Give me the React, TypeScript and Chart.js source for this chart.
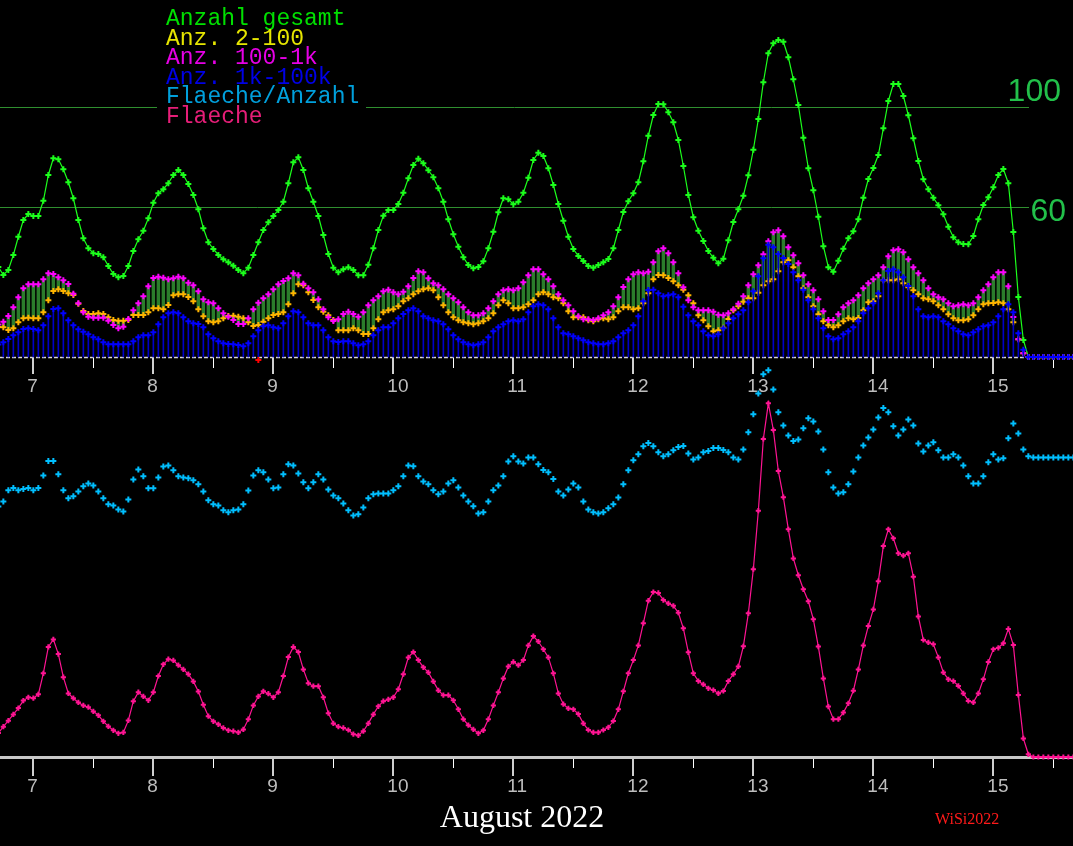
import { useEffect, useRef } from "react"
import { Chart, registerables } from "chart.js"
import type { ChartConfiguration, Plugin } from "chart.js"

Chart.register(...registerables)

// hourly samples, hour 0 = 7 Aug 00:00, first sample at 6 Aug 17:00
const START_HOUR = -7

const DAY_HOURS = [0, 24, 48, 72, 96, 120, 144, 168, 192]
const DAY_LABELS = ["7", "8", "9", "10", "11", "12", "13", "14", "15"]
const NOON_HOURS = [12, 36, 60, 84, 108, 132, 156, 180, 204]

const GRID_VALUES = [60, 100]

const LEGEND = [
  { text: "Anzahl gesamt", color: "#00e000" },
  { text: "Anz. 2-100", color: "#e6e600" },
  { text: "Anz. 100-1k", color: "#e600e6" },
  { text: "Anz. 1k-100k", color: "#0000e6" },
  { text: "Flaeche/Anzahl", color: "#00a0dc" },
  { text: "Flaeche", color: "#e61e78" },
]

const anzahlGesamt = [
  36, 32.8, 34.8, 40.8, 48.1, 54.8, 57.2,
  56.4, 56.4, 62.5, 72.8, 79.5, 79.1, 75.1, 69.9, 63.5, 54.8, 47.5, 43.5, 41.5, 41.2, 39.9, 36.4, 33.2, 31.9, 32.4, 36.4, 42.4, 47.1, 50.5, 55.5,
  61.7, 65.5, 67.1, 69.5, 72.8, 74.8, 72.8, 69.2, 64.8, 59.1, 51.5, 45.9, 43.2, 40.8, 39.1, 37.9, 36.5, 34.8, 33.5, 35.7, 40.8, 45.9, 50.8, 53.9,
  56.4, 58.8, 62.1, 69.5, 77.9, 79.9, 74.8, 67.5, 62.1, 56.4, 48.8, 41.2, 35.7, 33.9, 35.1, 35.9, 34.8, 32.7, 32.7, 36.9, 43.5, 50.8, 56.5, 58.8,
  58.8, 61.2, 65.7, 71.5, 76.8, 79.3, 77.5, 74.7, 71.9, 67.5, 62.1, 55.1, 49.1, 44.1, 39.9, 36.8, 35.5, 36, 38.3, 43.5, 50.1, 57.9, 63.5, 63.1,
  61.1, 62.1, 65.7, 71.7, 78.8, 81.7, 80.4, 75.5, 68.8, 61.2, 54.5, 48.1, 43.2, 40.4, 38.4, 36.4, 35.7, 36.8, 37.9, 39.2, 43.5, 50.8, 58, 62.3,
  65.5, 69.9, 78.3, 88.5, 96.8, 101.2, 101.1, 97.9, 93.9, 86.8, 76.4, 64.8, 55.9, 50.5, 46.4, 42.4, 39.7, 37.5, 39.3, 46.7, 54, 59.1, 64.5, 72.7,
  82.9, 95.2, 109.9, 121.5, 125.5, 126.8, 126.1, 119.9, 111.1, 100.8, 87.7, 75.5, 66.7, 56.1, 44.3, 35.9, 34.1, 38.5, 43.3, 47.5, 50.3, 55.1, 63.7, 71.2,
  75.6, 80.8, 91.5, 102.4, 109.2, 109.2, 104.4, 96.7, 87.5, 78.4, 71.1, 67.1, 63.7, 60.7, 57.1, 52.1, 47.9, 45.9, 45.2, 45.1, 48.4, 55.1, 60.8, 63.9,
  67.9, 72.8, 75.2, 69.5, 50, 24, 6.8, 0, 0, 0, 0, 0, 0, 0, 0, 0, 0,
]

const anz2to100 = [
  12, 11.9, 10.8, 11.5, 13.9, 15.5, 15.7,
  15.5, 15.5, 17.9, 22.7, 26.4, 27.1, 26.4, 25.5, 24.8, 21.3, 18.4, 17.2, 17.2, 17.5, 17.2, 15.9, 14.8, 14.5, 14.5, 14.8, 16.8, 16.8, 16.8, 17.9,
  19.5, 19.5, 19.1, 20.8, 24.7, 25.1, 25.1, 24, 22.3, 19.1, 16.3, 14.3, 13.9, 14.3, 15.5, 16.4, 16.5, 16.1, 15.5, 13.9, 12.4, 12.8, 14.1, 15.5,
  16.8, 17.2, 17.9, 21.1, 25.5, 29.1, 28.7, 25.9, 22.8, 19.9, 18.1, 16.7, 14.8, 10.7, 10.7, 10.7, 11.5, 10.7, 9.2, 9.2, 11.5, 15.1, 17.9, 18.7,
  19.1, 20.3, 22.3, 23.5, 25.1, 26.3, 27.1, 27.5, 26.7, 23.9, 20.7, 17.9, 15.9, 14.7, 13.9, 13.5, 13.1, 13.5, 14.3, 15.5, 17.5, 20.7, 22.7, 21.5,
  19.5, 19.5, 19.9, 21.1, 22.7, 25.1, 25.9, 25.1, 23.9, 23.5, 21.5, 18.3, 15.9, 15.9, 15.9, 14.7, 14.3, 15.1, 15.5, 15.1, 15.9, 18.3, 19.9, 19.9,
  19.1, 19.5, 21.5, 25.5, 31.1, 32.8, 32.7, 31.6, 30.3, 28.7, 26.9, 24.7, 21.5, 16.7, 14.7, 12.3, 10.3, 10.7, 11.7, 15.2, 18.7, 20.3, 22.1, 23.5,
  23.5, 25.7, 28.7, 30.3, 31.1, 34.3, 37.9, 38.7, 35.9, 32.3, 27.5, 23.9, 20.3, 17.1, 14.3, 12.7, 11.9, 12.7, 14.3, 15.5, 15.1, 15.6, 18.7, 21.9,
  22.3, 24.3, 30.7, 30.7, 30.7, 31.1, 29.5, 27.9, 26.7, 25.1, 23.5, 23.1, 22.3, 20.7, 19.1, 17.1, 15.5, 14.7, 14.7, 15.1, 16.7, 19.1, 21.1, 21.5,
  21.6, 21.9, 21.5, 19.1, 13.9, 7.1, 1.5, 0, 0, 0, 0, 0, 0, 0, 0, 0, 0,
]

const anz100to1k = [
  13, 14.1, 16.4, 19.9, 23.9, 27.5, 29.1,
  29.1, 29.1, 31.1, 33.5, 33.2, 31.9, 30.7, 29.2, 25.3, 21.5, 17.9, 16.1, 15.7, 15.7, 15.7, 14.5, 12.8, 11.5, 12.1, 15.2, 18.7, 21.5, 24.3, 28.3,
  31.6, 32.1, 31.7, 31.1, 31.5, 32.1, 31.5, 29.7, 28.7, 26.3, 23.1, 21.9, 21.5, 19.5, 17.5, 16.1, 14.8, 13.2, 13.2, 15.5, 19.1, 21.7, 23.5, 25.1,
  27.1, 29.1, 30.4, 31.5, 33.5, 32.7, 29.3, 27.5, 25.9, 23.1, 19.1, 15.9, 14.4, 15.1, 17.2, 18.1, 17.2, 16.1, 17.9, 20.7, 22.7, 24.3, 26.3, 26.9,
  25.9, 25.1, 26.1, 28.3, 31.6, 34.3, 33.9, 31.5, 29.5, 28.7, 27.1, 25.1, 23.5, 21.9, 19.9, 17.9, 16.7, 16.7, 17.5, 19.5, 22.3, 25.1, 26.7, 27.1,
  26.7, 27.5, 29.9, 32.7, 35.1, 35.1, 33.1, 31.1, 28.3, 25.1, 22.7, 20.7, 18.3, 16.3, 15.1, 15.1, 14.8, 15.5, 16.7, 17.9, 20.3, 23.9, 28, 31.1,
  33.1, 33.9, 33.5, 34.1, 37.9, 42.3, 43.5, 41.5, 37.9, 33.5, 27.9, 22.7, 19.9, 18.7, 18.7, 18.7, 18.1, 16.9, 16.7, 17.5, 19.1, 21.3, 24.3, 28.7,
  33.1, 36.7, 41.1, 46.3, 49.9, 50.7, 48.3, 43.9, 40.7, 37.5, 32.7, 29.1, 26.7, 23.1, 18.3, 14.8, 14.8, 17.1, 19.9, 21.5, 22.7, 24.7, 27.5, 29.5,
  31.1, 32.7, 35.9, 40.3, 42.7, 43.1, 41.9, 39.1, 35.9, 33.5, 30.7, 27.5, 25.1, 23.9, 23.1, 21.5, 20.3, 20.7, 21.1, 20.7, 21.5, 23.9, 26.7, 29.1,
  31.9, 33.9, 33.9, 28.3, 16, 7.1, 1.5, 0, 0, 0, 0, 0, 0, 0, 0, 0, 0,
]

const anz1kto100k = [
  5, 5.9, 7.2, 8.7, 9.9, 11.2, 11.5,
  11.2, 10.7, 12.7, 16.3, 19.2, 19.5, 17.5, 14.7, 12.7, 11.1, 10.1, 9.1, 7.9, 7.1, 5.9, 5.1, 5.1, 5.1, 5.1, 5.1, 6.3, 7.9, 8.7, 8.7,
  9.9, 13.1, 15.9, 17.5, 17.9, 17.5, 15.9, 14.3, 13.5, 13.2, 11.9, 9.1, 7.5, 6.3, 5.5, 5.2, 5.1, 4.8, 4.3, 5.5, 8.3, 10.7, 12.3, 12.7,
  11.9, 11.5, 13.5, 16.3, 18.3, 17.9, 15.9, 13.5, 12.7, 12.7, 10.7, 7.9, 6.3, 6, 6.3, 6.3, 5.5, 4.7, 5.1, 6.3, 8.7, 10.7, 11.9, 11.9,
  13.5, 15.5, 17.2, 18.7, 19.5, 18.3, 16.3, 15.5, 14.7, 14.3, 13.1, 11.1, 8.7, 7.1, 5.9, 5.1, 4.7, 5.1, 5.9, 7.9, 10.3, 11.9, 13.1, 14.3,
  14.7, 14.3, 15.1, 17.9, 20.3, 21.1, 20.7, 19.1, 15.5, 11.9, 9.5, 9.1, 8.3, 7.5, 6.7, 5.9, 5.5, 5.1, 5.1, 5.5, 6.3, 7.9, 9.5, 10.7,
  12.7, 16.3, 22.3, 26.8, 26.9, 25.5, 24.3, 24.7, 25.1, 23.9, 20.1, 16.7, 14.3, 12.7, 10.3, 8.7, 8.3, 9.1, 11.5, 13.5, 15.5, 17.1, 18.7, 21.9,
  26.3, 32.3, 39.5, 44.9, 43.9, 41.2, 39.6, 37.2, 33.9, 30.7, 26.9, 22.7, 19.1, 15.5, 11.5, 8.3, 7.1, 7.5, 9.1, 10.3, 11.9, 14.3, 17.5, 19.5,
  21.5, 25.5, 30.7, 34.4, 35.1, 33.9, 31.9, 28.4, 24.3, 19.1, 16.3, 15.9, 16.3, 15.9, 14.3, 13.1, 11.5, 10.3, 9.1, 8.7, 9.9, 11.1, 12.3, 12.7,
  13.9, 16.3, 19.1, 21.1, 17.9, 9.5, 2.9, 0, 0, 0, 0, 0, 0, 0, 0, 0, 0,
]

const flaecheProAnzahl = [
  62.6, 63.9, 66.7, 67.25, 66.7, 67, 67.25,
  66.7, 67.25, 70.4, 74, 74, 70.7, 66.7, 64.7, 65.2, 66.4, 67.7, 68.4, 67.9, 66.4, 64.7, 63.2, 62.9, 61.9, 61.4, 64.4, 69.4, 71.9, 70.2, 67.2,
  67.2, 69.9, 72.6, 72.9, 71.7, 70.2, 69.9, 69.7, 69.2, 68.2, 66.4, 64.2, 63.2, 62.9, 61.7, 61.2, 61.7, 61.9, 63.2, 66.6, 70.4, 71.7, 71.2, 69.4,
  67.2, 67.4, 70.7, 73.2, 72.9, 70.9, 68.7, 67.2, 68.7, 70.7, 69.4, 66.9, 65.4, 64.7, 63.4, 61.7, 60.4, 60.7, 62.4, 64.7, 65.7, 65.9, 65.9, 65.9,
  66.7, 67.7, 70.2, 72.9, 72.7, 70.2, 68.9, 68.2, 66.7, 65.7, 66.4, 68.4, 69.2, 67.4, 65.4, 63.9, 62.7, 60.9, 61.2, 63.9, 66.7, 67.9, 70.2, 73.9,
  75.2, 73.9, 73.4, 74.9, 74.9, 73.2, 71.75, 71.2, 69.5, 66.4, 65.4, 66.9, 68.4, 67.4, 63.9, 61.9, 61.2, 60.9, 61.2, 62.2, 63.2, 64.9, 68.2, 71.7,
  74.2, 75.7, 77.7, 78.5, 77.7, 76.2, 75.2, 75.7, 76.7, 77.5, 77.75, 75.9, 74.4, 74.9, 76.2, 76.5, 77.25, 77.25, 76.75, 76.2, 74.9, 74.4, 76.9, 81.2,
  85.7, 90.9, 95.7, 96.7, 91.9, 86.2, 82.9, 80.4, 79, 79.4, 82.2, 84.7, 83.9, 81.4, 76.9, 71.2, 67.4, 65.9, 66.2, 68.2, 71.4, 74.9, 77.9, 79.9,
  81.9, 84.9, 87.25, 86.2, 82.7, 80.4, 81.9, 84.4, 82.9, 78.4, 76.4, 77.9, 78.7, 76.7, 74.9, 74.9, 75.7, 74.9, 72.9, 70.2, 68.4, 68.4, 70.2, 73.7,
  75.7, 74.4, 74.7, 79.7, 83.4, 80.9, 76.9, 75.2, 74.9, 74.9, 74.9, 74.9, 74.9, 74.9, 74.9, 74.9, 74.9,
]

const flaeche = [
  8, 10.1, 12.1, 14.2, 16.3, 18.8, 19.9,
  19.6, 20.9, 27.9, 36.7, 39.2, 34.3, 26.6, 21.2, 19.6, 18.2, 17.2, 16.6, 15.2, 13.9, 11.9, 10.2, 8.9, 7.9, 8.2, 12.2, 18.6, 21.6, 20.2, 18.9,
  21.6, 27, 30.9, 32.6, 32.2, 30.6, 29.2, 27.6, 25.2, 21.8, 17.4, 13.6, 11.9, 10.9, 9.7, 8.9, 8.6, 8.2, 9.2, 12.6, 17.2, 20.2, 21.9, 21.1,
  19.9, 21.6, 27, 33.3, 36.7, 35, 29.2, 24.6, 23.6, 23.6, 19.9, 14.6, 11.2, 10.1, 9.7, 9, 7.6, 7.2, 8.6, 11.2, 14.2, 16.9, 18.6, 19.2,
  19.9, 22.6, 27.6, 33.2, 35, 32.3, 29.9, 28.2, 25.2, 22.2, 20.6, 20.6, 18.9, 15.9, 12.6, 10.6, 9.2, 7.9, 8.9, 12.6, 17.2, 21.6, 26.2, 30.2,
  31.7, 30.6, 32.3, 37.2, 40.3, 38.5, 35.9, 33.2, 27.9, 21.2, 17.6, 16.2, 15.9, 14.3, 11.2, 9, 8.2, 8.2, 9, 9.9, 12, 15.9, 21.9, 27.9,
  32.3, 37.2, 44.6, 52.1, 55, 54.7, 52.3, 51.2, 50.4, 48.1, 42.9, 34.9, 27.9, 25.3, 24.2, 22.9, 22.3, 21.2, 22, 25.3, 27.6, 30.2, 36.9, 47.9,
  62.6, 82.1, 106, 117.9, 109, 95.3, 86.6, 75.9, 66.2, 60.6, 55.9, 51.9, 45.9, 36.8, 26.2, 16.8, 12.6, 12.6, 14.8, 17.9, 22.1, 29.2, 37.2, 43.7,
  49.2, 58.6, 70.3, 75.9, 72.9, 67.9, 67.1, 67.9, 60.1, 46.8, 39, 38.2, 37.6, 33.2, 28.2, 25.9, 25.3, 23.7, 21.2, 18.7, 18.2, 21.2, 25.9, 31.7,
  35.9, 36.4, 37.9, 42.7, 37.3, 20.7, 6.2, 0.9, 0, 0, 0, 0, 0, 0, 0, 0, 0,
]

// single red marker just below the count baseline
const redMarks = [{ x: 45, y: -1.2 }]

const WIDTH = 1073
const HEIGHT = 846
const BOTTOM_SPACE = 89
const X_MIN = -6.67
const X_MAX = 207.93
const GRID_RIGHT = 1029

const GREEN = "#1cff1c"
const ORANGE = "#ffb400"
const MAGENTA = "#ff00ff"
const BLUE = "#0000ff"
const CYAN = "#00bfff"
const PINK = "#ff1493"

const hours = anzahlGesamt.map((_, i) => START_HOUR + i)
const pts = (values: number[]) => values.map((y, i) => ({ x: hours[i], y }))

const marker = (color: string, radius = 3, width = 2) => ({
  pointStyle: "cross" as const,
  pointRadius: radius,
  pointBorderWidth: width,
  pointBorderColor: color,
  pointBackgroundColor: color,
  borderColor: color,
  clip: false as const,
})

const dayLabel = (value: number | string) => {
  const i = DAY_HOURS.indexOf(Number(value))
  return i >= 0 ? DAY_LABELS[i] : ""
}

const tickLabels = {
  color: "#bdbdbd",
  font: { family: "'Liberation Sans', sans-serif", size: 19 },
  padding: 1,
  align: "start" as const,
  labelOffset: -6,
  maxRotation: 0,
  autoSkip: false,
  callback: dayLabel,
}

const majorAxis = (positionAxis: string, withBorder: boolean) => ({
  type: "linear" as const,
  min: X_MIN,
  max: X_MAX,
  offset: false,
  position: { [positionAxis]: 0 },
  grid: { offset: false, drawOnChartArea: false, drawTicks: true, tickLength: 17, color: "#cfcfcf", lineWidth: 2 },
  border: withBorder ? { display: true, color: "#c8c8c8", width: 3 } : { display: false },
  ticks: tickLabels,
  afterBuildTicks: (axis: any) => {
    axis.ticks = DAY_HOURS.map((value) => ({ value }))
  },
})

const minorAxis = (positionAxis: string) => ({
  type: "linear" as const,
  min: X_MIN,
  max: X_MAX,
  offset: false,
  position: { [positionAxis]: 0 },
  grid: { offset: false, drawOnChartArea: false, drawTicks: true, tickLength: 11, color: "#ffffff", lineWidth: 1 },
  border: { display: false },
  ticks: { display: false },
  afterBuildTicks: (axis: any) => {
    axis.ticks = NOON_HOURS.map((value) => ({ value }))
  },
})

const SPREAD_INDEX = 7

const decorations: Plugin<"line"> = {
  id: "decorations",
  beforeDatasetsDraw(chart) {
    const { ctx, chartArea } = chart
    const y = chart.scales.y
    ctx.save()
    ctx.strokeStyle = "#2f8f2f"
    ctx.lineWidth = 1
    GRID_VALUES.forEach((v) => {
      const py = Math.round(y.getPixelForValue(v)) + 0.5
      ctx.beginPath()
      ctx.moveTo(chartArea.left, py)
      ctx.lineTo(GRID_RIGHT, py)
      ctx.stroke()
    })
    ctx.fillStyle = "#22c04a"
    ctx.font = "32px 'Liberation Sans', sans-serif"
    ctx.textAlign = "right"
    ctx.textBaseline = "alphabetic"
    GRID_VALUES.forEach((v) => {
      const py = y.getPixelForValue(v)
      if (v === 100) ctx.fillText(String(v), 1061, py - 6)
      else ctx.fillText(String(v), 1066, py + 14)
    })
    // legend block sits on a black box that hides the grid line
    ctx.fillStyle = "#000000"
    ctx.fillRect(157, 0, 209, 128)
    ctx.font = "23px 'Liberation Mono', monospace"
    ctx.textAlign = "left"
    LEGEND.forEach((item, i) => {
      ctx.fillStyle = item.color
      ctx.fillText(item.text, 166, 25 + i * 19.6)
    })
    ctx.restore()
  },
  beforeDatasetDraw(chart, args) {
    if (args.index !== SPREAD_INDEX) return
    const { ctx, chartArea } = chart
    const py = Math.round(chart.scales.y.getPixelForValue(0)) + 0.5
    ctx.save()
    ctx.strokeStyle = "#dcdcdc"
    ctx.lineWidth = 1.5
    ctx.setLineDash([4, 2])
    ctx.beginPath()
    ctx.moveTo(chartArea.left, py)
    ctx.lineTo(chartArea.right, py)
    ctx.stroke()
    ctx.restore()
  },
  afterDraw(chart) {
    const { ctx } = chart
    ctx.save()
    ctx.textBaseline = "alphabetic"
    ctx.textAlign = "center"
    ctx.fillStyle = "#ffffff"
    ctx.font = "32px 'Liberation Serif', serif"
    ctx.fillText("August 2022", 522, 827)
    ctx.textAlign = "left"
    ctx.fillStyle = "#ff1a1a"
    ctx.font = "16px 'Liberation Serif', serif"
    ctx.fillText("WiSi2022", 935, 824)
    ctx.restore()
  },
}

const config: ChartConfiguration<"line"> = {
  type: "line",
  data: {
    datasets: [
      { type: "line", label: "red", data: redMarks, yAxisID: "y", showLine: false, ...marker("#ff0000") },
      {
        type: "line",
        label: "Flaeche",
        data: pts(flaeche),
        yAxisID: "y2",
        borderWidth: 1.2,
        tension: 0,
        ...marker(PINK, 2.6, 2),
      },
      { type: "line", label: "Flaeche/Anzahl", data: pts(flaecheProAnzahl), yAxisID: "y3", showLine: false, ...marker(CYAN) },
      { type: "line", label: "Anz. 1k-100k", data: pts(anz1kto100k), yAxisID: "y", showLine: false, ...marker(BLUE) },
      {
        type: "bar",
        label: "Anz. 1k-100k bars",
        data: pts(anz1kto100k),
        yAxisID: "y",
        backgroundColor: "#0000c8",
        borderWidth: 0,
        barThickness: 1,
        grouped: false,
      } as any,
      { type: "line", label: "Anz. 100-1k", data: pts(anz100to1k), yAxisID: "y", showLine: false, ...marker(MAGENTA) },
      { type: "line", label: "Anz. 2-100", data: pts(anz2to100), yAxisID: "y", showLine: false, ...marker(ORANGE) },
      {
        type: "bar",
        label: "spread",
        data: anz2to100.map((v, i) => ({ x: hours[i], y: [v, anz100to1k[i]] })),
        yAxisID: "y",
        backgroundColor: "#2b7d2b",
        borderWidth: 0,
        barThickness: 2.8,
        grouped: false,
      } as any,
      {
        type: "line",
        label: "Anzahl gesamt",
        data: pts(anzahlGesamt),
        yAxisID: "y",
        borderWidth: 1.2,
        tension: 0,
        ...marker(GREEN),
      },
    ],
  },
  options: {
    animation: false,
    responsive: false,
    devicePixelRatio: 1,
    events: [],
    layout: { autoPadding: false, padding: { left: 0, right: 0, top: 0, bottom: BOTTOM_SPACE } },
    plugins: { legend: { display: false }, tooltip: { enabled: false }, title: { display: false } },
    scales: {
      x: majorAxis("y2", true) as any,
      xTop: majorAxis("y", false) as any,
      xMinor: minorAxis("y2") as any,
      xMinorTop: minorAxis("y") as any,
      y: { type: "linear", display: false, min: -160, max: 142.8 },
      y2: { type: "linear", display: false, min: 0, max: (HEIGHT - BOTTOM_SPACE) / 3 },
      y3: { type: "linear", display: false, min: 0, max: (HEIGHT - BOTTOM_SPACE) / 4 },
    },
  },
  plugins: [decorations],
}

export default function App() {
  const canvasRef = useRef<HTMLCanvasElement | null>(null)
  const chartRef = useRef<Chart | null>(null)

  useEffect(() => {
    document.body.style.margin = "0"
    document.body.style.background = "#000"
    if (!canvasRef.current) return

    if (chartRef.current) {
      chartRef.current.destroy()
    }

    const ctx = canvasRef.current.getContext("2d")
    if (ctx) {
      chartRef.current = new Chart(ctx, config as any)
    }

    return () => {
      if (chartRef.current) {
        chartRef.current.destroy()
        chartRef.current = null
      }
    }
  }, [])

  return (
    <div style={{ position: "absolute", left: 0, top: 0, width: WIDTH, height: HEIGHT, background: "#000" }}>
      <canvas ref={canvasRef} width={WIDTH} height={HEIGHT} style={{ display: "block" }} />
    </div>
  )
}
